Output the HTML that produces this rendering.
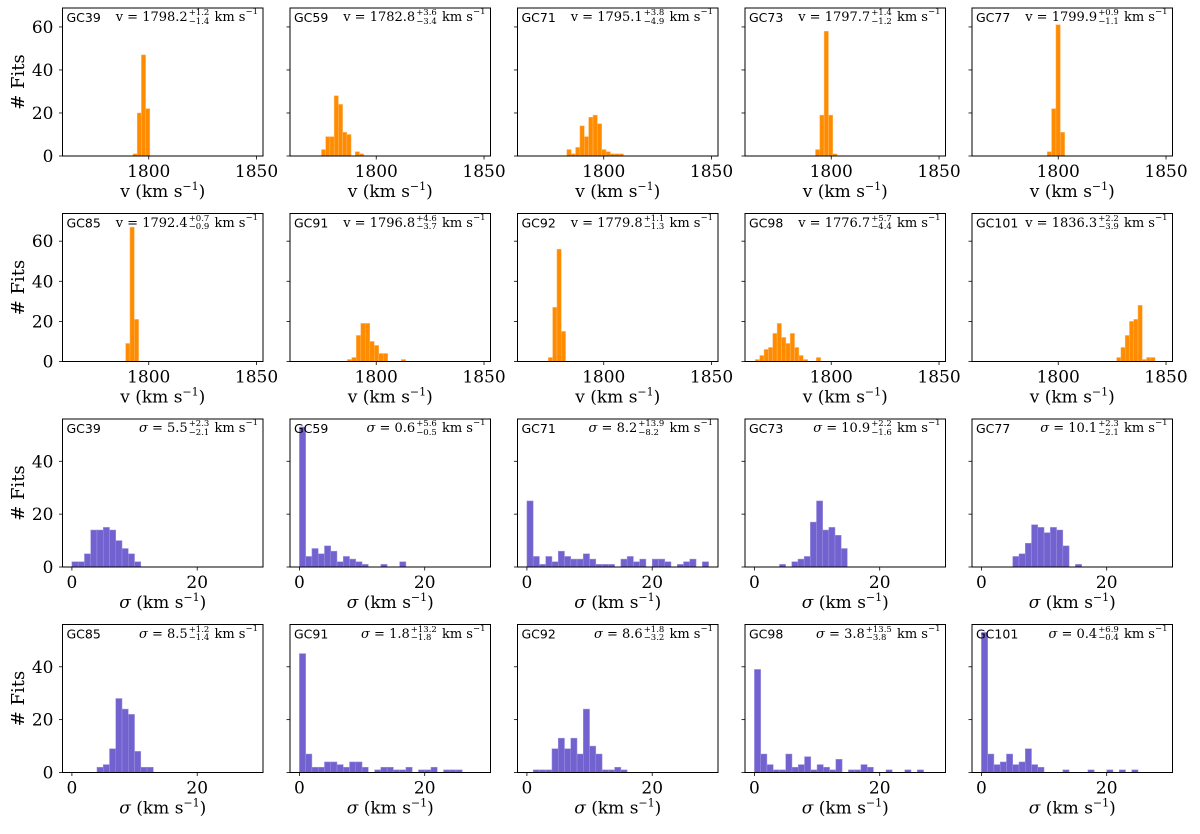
<!DOCTYPE html>
<html><head><meta charset="utf-8">
<style>
html,body{margin:0;padding:0;background:#fff;}
#wrap{position:relative;width:1200px;height:834px;overflow:hidden;}
svg{position:absolute;left:0;top:0;}
.ann{position:absolute;white-space:nowrap;font-family:"DejaVu Serif","Liberation Serif",serif;font-size:13px;line-height:15px;color:#000;display:flex;align-items:center;}
.st{display:inline-flex;flex-direction:column;font-size:8.5px;line-height:8.5px;margin:0 1px;}
.sp{font-size:8.5px;position:relative;top:-5px;}
</style></head>
<body>
<div id="wrap">
<svg id="chart" width="1200" height="834"></svg>
</div>
<script>
// ---- data ----
const names = ["GC39","GC59","GC71","GC73","GC77","GC85","GC91","GC92","GC98","GC101"];
const vVal = ["1798.2","1782.8","1795.1","1797.7","1799.9","1792.4","1796.8","1779.8","1776.7","1836.3"];
const vPlus = ["+1.2","+3.6","+3.8","+1.4","+0.9","+0.7","+4.6","+1.1","+5.7","+2.2"];
const vMinus = ["−1.4","−3.4","−4.9","−1.2","−1.1","−0.9","−3.7","−1.3","−4.4","−3.9"];
const vStart = [1792.7,1774.6,1782.9,1792.7,1794.9,1789.3,1786.6,1774.3,1764.8,1827.1];
const vWidth = [1.95,1.96,2.02,2.0,2.02,2.0,2.08,2.0,2.02,1.98];
const vCounts = [
 [1,20,47,22],
 [3,9,9,28,24,11,10,0,2,1],
 [3,1,4,14,9,18,19,15,3,2,1,1,1],
 [3,19,58,19,1],
 [2,22,61,11],
 [9,67,21],
 [1,2,13,19,19,10,8,4,4,0,0,0,1],
 [2,27,56,15],
 [1,3,6,7,14,19,12,9,14,7,3,1,0,0,2],
 [2,7,13,20,21,28,1,2,2]
];
const sVal = ["5.5","0.6","8.2","10.9","10.1","8.5","1.8","8.6","3.8","0.4"];
const sPlus = ["+2.3","+5.6","+13.9","+2.2","+2.3","+1.2","+13.2","+1.8","+13.5","+6.9"];
const sMinus = ["−2.1","−0.5","−8.2","−1.6","−2.1","−1.4","−1.8","−3.2","−3.8","−0.4"];
const sStart = [0,0,0,4,5,4,0,0,0,0];
const sWidth = [1,1,1,0.985,1,1,1,1,1,1];
const sCounts = [
 [2,2,5,14,14,15,14,10,7,5,2],
 [53,4,7,5,8,6,2,4,3,2,1,0,0,1,0,0,2],
 [25,4,1,4,2,6,4,3,3,5,3,1,1,1,0,3,4,2,3,0,3,3,2,0,1,2,3,0,2],
 [1,0,2,3,4,17,25,14,15,12,7],
 [4,5,9,16,15,13,15,14,8,0,1],
 [2,3,9,28,24,22,8,2,2],
 [45,7,2,2,4,4,3,2,4,4,2,0,1,2,2,1,1,2,0,1,1,2,0,1,1,1],
 [0,1,1,1,9,13,9,13,7,24,10,7,1,1,2,1],
 [39,7,3,1,1,7,2,3,6,1,3,2,1,5,0,1,1,3,2,0,0,1,0,0,1,0,1],
 [53,7,3,4,7,3,4,9,3,2,0,0,0,1,0,0,0,1,0,0,1,0,1,0,1]
];
const vTicks = [1800,1850];
const sTicks = [0,20];
const yTicksV = [0,20,40,60];
const yTicksS = [0,20,40];
const vXlim = [1760,1853];
const sXlim = [-1.5,30.5];
const yMaxRows = [68.8,73.8,56,56];

// ---- layout ----
const NS="http://www.w3.org/2000/svg";
const svg=document.getElementById('chart');
const wrap=document.getElementById('wrap');
const colL=[62.5,290,517.5,745,972];
const rowT=[8,213.5,419,624.5];
const PW=200.5, PH=148;
const SERIF='DejaVu Serif, Liberation Serif, serif';
function mk(tag,attrs,parent){const e=document.createElementNS(NS,tag);for(const k in attrs)e.setAttribute(k,attrs[k]);(parent||svg).appendChild(e);return e;}

function drawPanel(row,col,idx,isV){
  const L=colL[col],T=rowT[row],B=T+PH,R=L+PW;
  const xlim=isV?vXlim:sXlim, ymax=yMaxRows[row];
  const xs=v=>L+(v-xlim[0])/(xlim[1]-xlim[0])*PW;
  const ys=c=>B-c/ymax*PH;
  const g=mk('g',{});
  
  
  const counts=isV?vCounts[idx]:sCounts[idx];
  const st=isV?vStart[idx]:sStart[idx], w=isV?vWidth[idx]:sWidth[idx];
  const fill=isV?'#ff8c00':'#6a5acd', edge=isV?'#ffb866':'#9d92e0';
  const cp='clip'+row+'_'+col;
  const cl=mk('clipPath',{id:cp},g); mk('rect',{x:L,y:T,width:PW,height:PH},cl);
  const bg=mk('g',{'clip-path':'url(#'+cp+')'},g);
  counts.forEach((c,i)=>{
    if(c<=0)return;
    const x0=xs(st+i*w), x1=xs(st+(i+1)*w);
    const r=mk('rect',{x:x0,y:ys(c),width:x1-x0,height:B-ys(c),fill:fill,stroke:edge,'stroke-width':0.5,opacity:isV?1:0.95},bg);
    
    
  });
  const fr=mk('rect',{x:L,y:T,width:PW,height:PH,fill:'none',stroke:'#000','stroke-width':1},g);
  
  
  (isV?vTicks:sTicks).forEach(t=>{
    const x=xs(t);
    mk('line',{x1:x,x2:x,y1:B,y2:B+3.5,stroke:'#000','stroke-width':0.8},g);
    const tx=mk('text',{x:x,y:B+21,'text-anchor':'middle','font-family':SERIF,'font-size':17},g);
    tx.textContent=t;
    
    
  });
  const xl=mk('text',{x:(L+R)/2,y:B+41,'text-anchor':'middle','font-family':SERIF,'font-size':17},g);
  
  
  const a=mk('tspan',{'font-style':isV?'normal':'italic'},xl); a.textContent=isV?'v':'σ';
  const b=mk('tspan',{},xl); b.textContent=' (km s';
  const c2=mk('tspan',{dy:-7,'font-size':11},xl); c2.textContent='−1';
  const d=mk('tspan',{dy:7},xl); d.textContent=')';
  (isV?yTicksV:yTicksS).forEach(t=>{
    const y=ys(t);
    mk('line',{x1:L-3.5,x2:L,y1:y,y2:y,stroke:'#000','stroke-width':0.8},g);
    if(col===0){
      const ty=mk('text',{x:L-9,y:y+6,'text-anchor':'end','font-family':SERIF,'font-size':17},g);
      ty.textContent=t;
      
      
    }
  });
  if(col===0){
    const yt=mk('text',{x:0,y:0,'text-anchor':'middle','font-family':SERIF,'font-size':18,transform:'translate(24,'+(T+PH/2)+') rotate(-90)'},g);
    yt.textContent='# Fits';
    
    
  }
  const nl=mk('text',{x:L+4,y:T+14,'font-family':'DejaVu Sans, Liberation Sans, sans-serif','font-size':12.5},g);
  nl.textContent=names[idx];
  
  
  const an=document.createElement('div');
  an.className='ann';
  
  
  an.style.right=(1200-R+5)+'px';
  an.style.top=(T+1)+'px';
  const sym=isV?'v':'<i>σ</i>';
  const val=isV?vVal[idx]:sVal[idx], pl=isV?vPlus[idx]:sPlus[idx], mi=isV?vMinus[idx]:sMinus[idx];
  an.innerHTML='<span>'+sym+'&nbsp;=&nbsp;'+val+'</span><span class="st"><span>'+pl+'</span><span>'+mi+'</span></span><span>&nbsp;km&nbsp;s</span><span class="sp">−1</span>';
  wrap.appendChild(an);
}
for(let r=0;r<4;r++){for(let c=0;c<5;c++){const idx=(r%2)*5+c;drawPanel(r,c,idx,r<2);}}
</script>
</body></html>
